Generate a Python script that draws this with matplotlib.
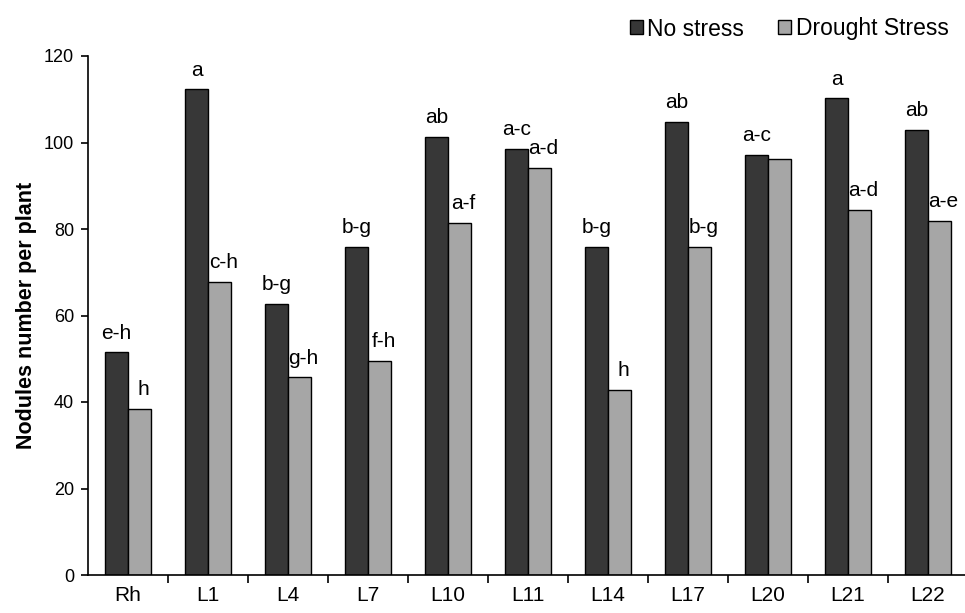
import numpy as np
import matplotlib.pyplot as plt
from matplotlib.ticker import FixedLocator

plt.rcParams["font.family"] = ["Liberation Sans", "DejaVu Sans"]

# ── data ──────────────────────────────────────────────────────────────────────
lines = ["Rh", "L1", "L4", "L7", "L10", "L11", "L14", "L17", "L20", "L21", "L22"]
no_stress = [51.5, 112.3, 62.7, 75.8, 101.3, 98.6, 75.8, 104.8, 97.1, 110.2, 102.9]
drought = [38.4, 67.8, 45.7, 49.5, 81.5, 94.2, 42.8, 75.8, 96.3, 84.4, 81.9]
lab_ns = ["e-h", "a", "b-g", "b-g", "ab", "a-c", "b-g", "ab", "a-c", "a", "ab"]
lab_ds = ["h", "c-h", "g-h", "f-h", "a-f", "a-d", "h", "b-g", "", "a-d", "a-e"]

DARK = "#373737"
GREY = "#a6a6a6"
W = 0.2875

fig = plt.figure(figsize=(9.65, 6.13), dpi=100)
ax = fig.add_axes([88 / 965, 38 / 613, 877 / 965, 519 / 613])

x = np.arange(len(lines))
ax.bar(x - W / 2, no_stress, W, color=DARK, edgecolor="black", lw=1.0,
       label="No stress")
ax.bar(x + W / 2, drought, W, color=GREY, edgecolor="black", lw=1.0,
       label="Drought Stress")

# letters of the mean comparison test
for xi, v, t in zip(x - W / 2, no_stress, lab_ns):
    ax.annotate(t, (xi, v), xytext=(0, 7), textcoords="offset points",
                ha="center", va="bottom", fontsize=15)
for xi, v, t in zip(x + W / 2, drought, lab_ds):
    if t:
        ax.annotate(t, (xi, v), xytext=(3, 7), textcoords="offset points",
                    ha="center", va="bottom", fontsize=15)

ax.set_xlim(-0.5, -0.5 + 877 / 80)
ax.set_ylim(0, 120)
ax.set_yticks(np.arange(0, 121, 20))
ax.set_xticks(x)
ax.set_xticklabels(lines, fontsize=15)
ax.xaxis.set_minor_locator(FixedLocator(np.arange(0.5, 10, 1.0)))
ax.tick_params(axis="x", which="major", length=0, pad=8)
ax.tick_params(axis="x", which="minor", length=6, width=1.2, direction="out")
ax.tick_params(axis="y", length=5, width=1.2, direction="out", labelsize=13,
               pad=5)

for s in ("top", "right"):
    ax.spines[s].set_visible(False)
for s in ("left", "bottom"):
    ax.spines[s].set_linewidth(1.2)

ax.set_ylabel("Nodules number per plant", fontsize=15.5, fontweight="bold",
              labelpad=5)

ax.legend(loc="center right", bbox_to_anchor=(1 - 12 / 877, 1 + 27 / 519),
          ncol=2, frameon=False, fontsize=16.5, handlelength=0.55,
          handleheight=0.55, handletextpad=0.2, columnspacing=1.5,
          borderpad=0.2, borderaxespad=0.0)

plt.savefig("out.png", dpi=100)
